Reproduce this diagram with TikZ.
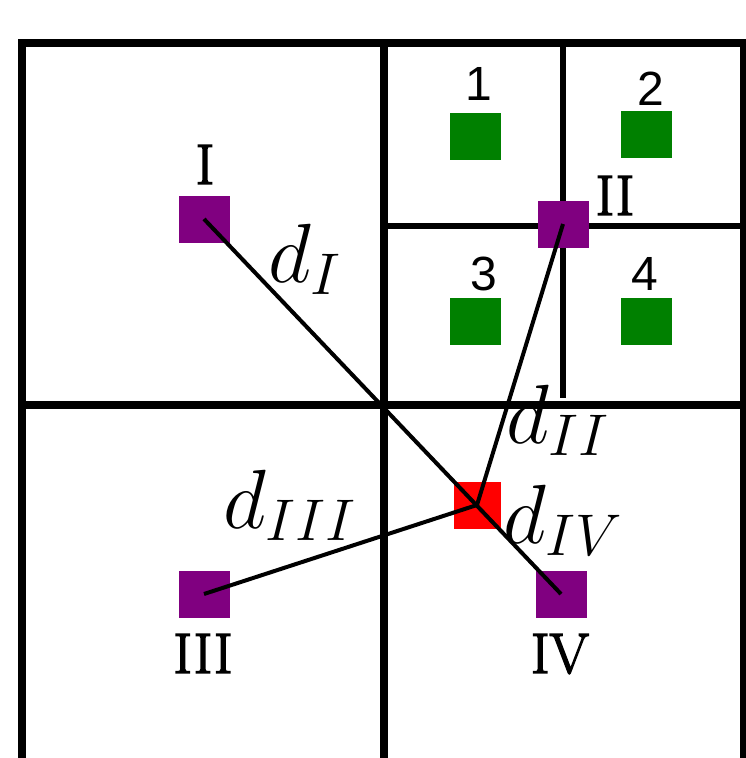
\RequirePackage{fix-cm}
\documentclass[tikz,border=0pt]{standalone}
\usepackage{fontspec}
\newfontfamily\numfont{Liberation Sans}
\newfontfamily\romfont[FakeBold=2.5]{Latin Modern Roman}
\definecolor{qpurple}{RGB}{128,0,128}
\definecolor{qgreen}{RGB}{0,128,0}
\definecolor{qred}{RGB}{255,0,0}
\tikzset{
  mainline/.style={line width=8pt},
  subline/.style={line width=6.5pt},
  link/.style={line width=4pt},
  sq/.style={rectangle, inner sep=0pt, minimum width=51pt, minimum height=47pt},
  body/.style={sq, fill=qpurple},
  leaf/.style={sq, fill=qgreen},
  query/.style={sq, fill=qred, minimum width=47pt},
  roman/.style={anchor=base, inner sep=0pt, font=\romfont\fontsize{57}{57}\selectfont},
  digit/.style={anchor=base, inner sep=0pt, font=\numfont\fontsize{48}{48}\selectfont},
  dist/.style={anchor=base west, inner sep=0pt, font=\fontsize{84}{84}\selectfont},
}
\begin{document}
\begin{tikzpicture}[x=1pt,y=-1pt]
\useasboundingbox (0,0) rectangle (746,758);
\clip (0,0) rectangle (746,758);
% grid
\draw[mainline] (21.5,800) -- (21.5,42.5) -- (744,42.5) -- (744,800);
\draw[mainline] (384,42.5) -- (384,800);
\draw[mainline] (21.5,405) -- (744,405);
\draw[subline] (563,42.5) -- (563,398);
\draw[subline] (384,226) -- (744,226);
% squares
\node[leaf] (g1) at (475,136) {};
\node[leaf] (g2) at (646,134) {};
\node[leaf] (g3) at (475,321) {};
\node[leaf] (g4) at (646,321) {};
\node[body] (I) at (204,219) {};
\node[body] (II) at (563,224) {};
\node[body] (III) at (204,594) {};
\node[body] (IV) at (561,594) {};
\node[query] (Q) at (477,505) {};
% connectors
\draw[link] (I.center) -- (IV.center);
\draw[link] (II.center) -- (Q.center);
\draw[link] (III.center) -- (Q.center);
% labels
\node[digit] (l1) at (479,100) {1};
\node[digit] (l2) at (651,105) {2};
\node[digit] (l3) at (484,290) {3};
\node[digit] (l4) at (645,290) {4};
\node[roman] (lI) at (205,184) {I};
\node[roman] (lII) at (615,215) {II};
\node[roman] (lIII) at (203,673) {III};
\node[roman] (lIV) at (560,673) {IV};
\node[dist] (dI) at (268,282) {$d_I$};
\node[dist] (dII) at (506,443) {$d_{II}$};
\node[dist] (dIII) at (223,528) {$d_{III}$};
\node[dist] (dIV) at (503,543) {$d_{IV}$};
\end{tikzpicture}
\end{document}
